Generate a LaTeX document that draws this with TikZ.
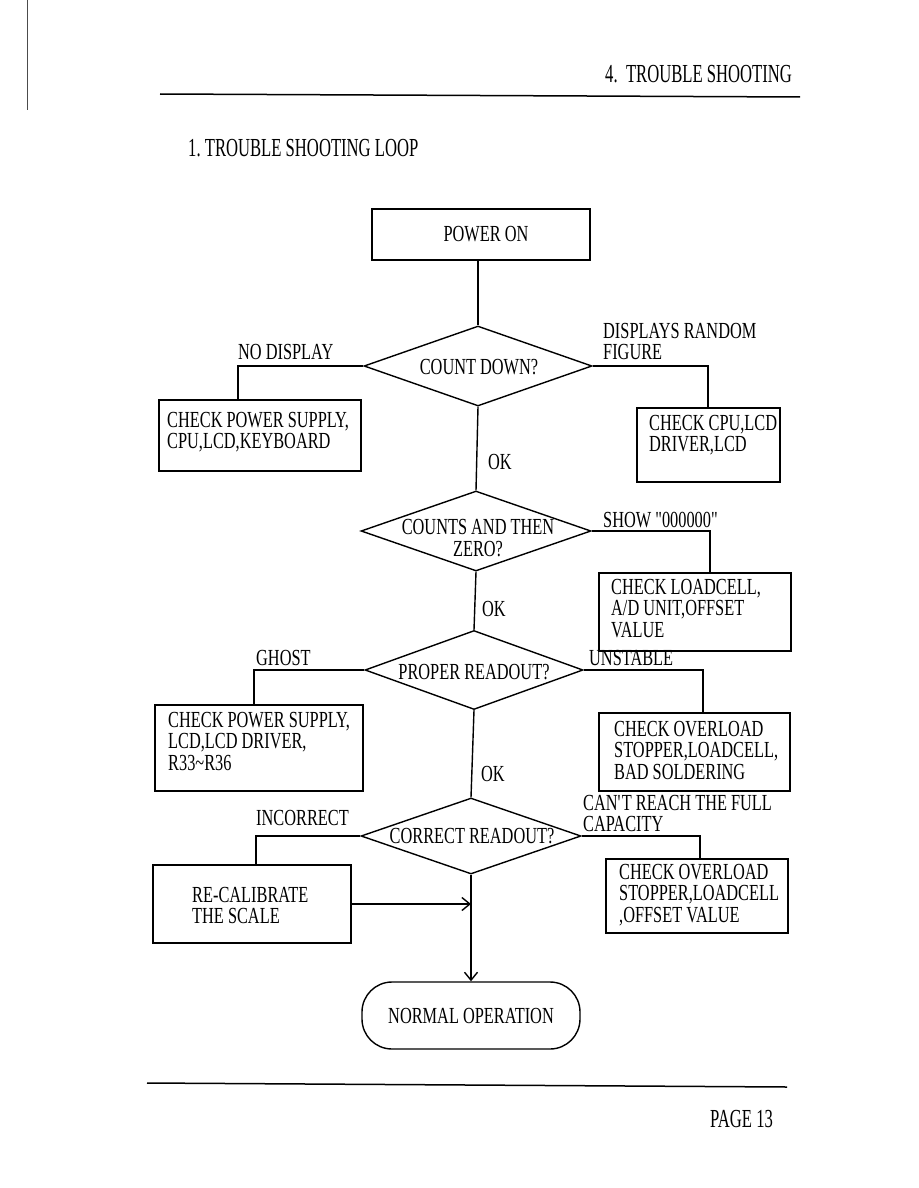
\documentclass[tikz,border=0pt]{standalone}
\usepackage{fontspec}
\setmainfont{Liberation Serif}
\newfontfamily\dfont[FakeStretch=0.71]{Liberation Serif}
\newfontfamily\hfont[FakeStretch=0.64]{Liberation Serif}
\usetikzlibrary{shapes.geometric,arrows.meta}
\newcommand\dtxt{\dfont\fontsize{23}{21.5}\selectfont}
\newcommand\htxt{\hfont\fontsize{26}{28}\selectfont}
\tikzset{
  ln/.style={line width=1.4pt, draw=black},
  stepbox/.style={draw=black, line width=1.4pt, rectangle, inner sep=0pt},
  dia/.style={draw=black, line width=1.4pt, diamond, inner sep=0pt},
  term/.style={draw=black, line width=1.4pt, rectangle, rounded corners=30pt, inner sep=0pt, font=\dtxt},
  txt/.style={font=\dtxt, inner sep=0pt, align=left, anchor=north west, text=black},
  ctxt/.style={font=\dtxt, inner sep=0pt, align=center, text=black},
  lbl/.style={font=\dtxt, inner sep=0pt, anchor=base west, text=black},
  hlbl/.style={font=\htxt, inner sep=0pt, anchor=base west, text=black},
  arr/.style={ln, -{Straight Barb[length=8pt,width=13pt,line width=1.4pt]}},
}
\begin{document}
\begin{tikzpicture}[x=1pt,y=-1pt]
\fill[white] (0,0) rectangle (918,1188);
\useasboundingbox (0,0) rectangle (918,1188);

% page frame / header
\draw[black!70, line width=1pt] (27,0) -- (27,110);
\node[hlbl] (hdr) at (605,83) {4.\ \ TROUBLE SHOOTING};
\draw[line width=1.5pt] (160,94) -- (800,97);
\node[hlbl] (ttl) at (188,157) {1.\ TROUBLE SHOOTING LOOP};
\draw[line width=1.5pt] (147,1083) -- (787,1087);
\node[hlbl] (pg) at (710,1127) {PAGE 13};

% main nodes
\node[stepbox, minimum width=218pt, minimum height=51pt, font=\dtxt] (p) at (481,234.5) {\hspace*{10pt}POWER ON};

\node[dia, minimum width=228pt, minimum height=80pt] (d1) at (478,366) {};
\node[ctxt] (d1t) at (479,367) {COUNT DOWN?};

\node[dia, minimum width=230pt, minimum height=80pt] (d2) at (476,531) {};
\node[ctxt] (d2t) at (478,538) {COUNTS AND THEN\\ZERO?};

\node[dia, minimum width=218pt, minimum height=79pt] (d3) at (474,670) {};
\node[ctxt] (d3t) at (474,672) {PROPER READOUT?};

\node[dia, minimum width=220pt, minimum height=76pt] (d4) at (471,836) {};
\node[ctxt] (d4t) at (472,836) {CORRECT READOUT?};

\node[term, minimum width=218pt, minimum height=67pt] (t) at (471,1015.5) {NORMAL OPERATION};

% side boxes
\node[stepbox, minimum width=202pt, minimum height=71pt] (b1) at (260,435.5) {};
\node[txt] (b1t) at (167,412) {CHECK POWER SUPPLY,\\CPU,LCD,KEYBOARD};

\node[stepbox, minimum width=143pt, minimum height=74pt] (b2) at (708.5,445) {};
\begin{scope}
\clip (637,408) rectangle (779,482);
\node[txt] (b2t) at (649,415) {CHECK CPU,LCD\\DRIVER,LCD};
\end{scope}

\node[stepbox, minimum width=192pt, minimum height=78pt] (b3) at (695,612) {};
\node[txt] (b3t) at (611,579) {CHECK LOADCELL,\\A/D UNIT,OFFSET\\VALUE};

\node[stepbox, minimum width=208pt, minimum height=86pt] (b4) at (259,748) {};
\node[txt] (b4t) at (168,712) {CHECK POWER SUPPLY,\\LCD,LCD DRIVER,\\R33\textasciitilde R36};

\node[stepbox, minimum width=191pt, minimum height=78pt] (b5) at (694.5,752) {};
\node[txt] (b5t) at (614,721) {CHECK OVERLOAD\\STOPPER,LOADCELL,\\BAD SOLDERING};

\node[stepbox, minimum width=198pt, minimum height=78pt] (b6) at (252,904) {};
\node[txt] (b6t) at (192,887) {RE-CALIBRATE\\THE SCALE};

\node[stepbox, minimum width=182pt, minimum height=74pt] (b7) at (697,896) {};
\node[txt] (b7t) at (619,864) {CHECK OVERLOAD\\STOPPER,LOADCELL\\,OFFSET VALUE};

% branch labels
\node[lbl] (l1) at (238,359) {NO DISPLAY};
\node[txt] (l2) at (603,323) {DISPLAYS RANDOM\\FIGURE};
\node[lbl] (ok1) at (488,469) {OK};
\node[lbl] (l3) at (603,527) {SHOW "000000"};
\node[lbl] (ok2) at (482,616) {OK};
\node[lbl] (l4) at (256,665) {GHOST};
\node[lbl] (l5) at (589,665) {UNSTABLE};
\node[lbl] (ok3) at (481,781) {OK};
\node[lbl] (l6) at (256,825) {INCORRECT};
\node[txt] (l7) at (583,795) {CAN{\textquotesingle}T REACH THE FULL\\CAPACITY};

% corner coordinates
\coordinate (c1) at (238,366);
\coordinate (c2) at (708,366);
\coordinate (c3) at (710,531);
\coordinate (c4) at (254,670);
\coordinate (c5) at (703,670);
\coordinate (c6) at (256,836);
\coordinate (c7) at (700,836);

% connectors
\draw[ln] (d1.north |- p.south) -- (d1.north);
\draw[ln] (d1.south) -- (d2.north);
\draw[ln] (d2.south) -- (d3.north);
\draw[ln] (d3.south) -- (d4.north);
\draw[arr] (d4.south) -- (t.north);

\draw[ln] (d1.west) -- (c1) -- (c1 |- b1.north);
\draw[ln] (d1.east) -- (c2) -- (c2 |- b2.north);
\draw[ln] (d2.east) -- (c3) -- (c3 |- b3.north);
\draw[ln] (d3.west) -- (c4) -- (c4 |- b4.north);
\draw[ln] (d3.east) -- (c5) -- (c5 |- b5.north);
\draw[ln] (d4.west) -- (c6) -- (c6 |- b6.north);
\draw[ln] (d4.east) -- (c7) -- (c7 |- b7.north);

\draw[arr] (b6.east) -- (b6.east -| d4.south);
\end{tikzpicture}
\end{document}
